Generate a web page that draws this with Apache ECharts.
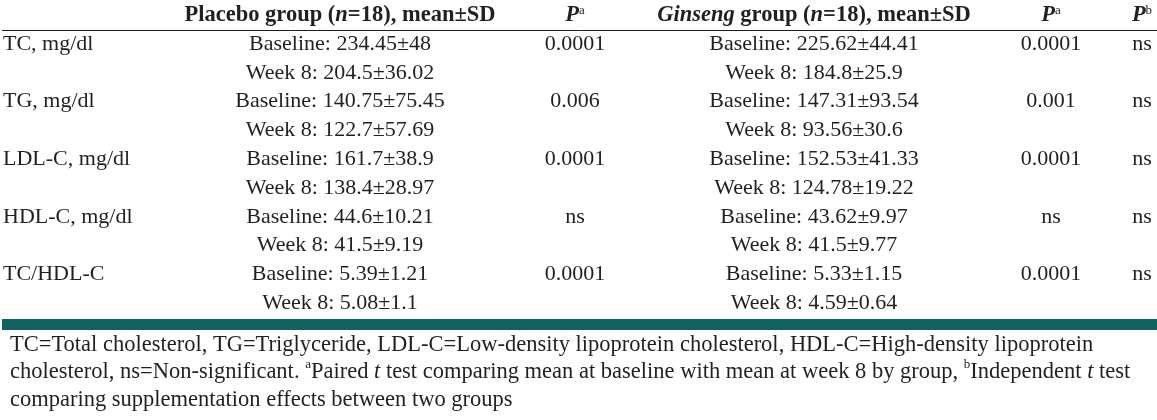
<!DOCTYPE html>
<html>
<head>
<meta charset="utf-8">
<script src="https://cdn.jsdelivr.net/npm/echarts@6/dist/echarts.min.js"></script>
<style>
  html, body { margin: 0; padding: 0; background: #ffffff; }
  #chart { width: 1157px; height: 420px; }
</style>
</head>
<body>
<div id="chart"></div>
<script>
// ---- data ----
const measures = ['TC, mg/dl', 'TG, mg/dl', 'LDL-C, mg/dl', 'HDL-C, mg/dl', 'TC/HDL-C'];
const placeboBaselineMean = [234.45, 140.75, 161.7, 44.6, 5.39];
const placeboBaselineSD   = [48, 75.45, 38.9, 10.21, 1.21];
const placeboWeek8Mean    = [204.5, 122.7, 138.4, 41.5, 5.08];
const placeboWeek8SD      = [36.02, 57.69, 28.97, 9.19, 1.1];
const placeboP            = ['0.0001', '0.006', '0.0001', 'ns', '0.0001'];
const ginsengBaselineMean = [225.62, 147.31, 152.53, 43.62, 5.33];
const ginsengBaselineSD   = [44.41, 93.54, 41.33, 9.97, 1.15];
const ginsengWeek8Mean    = [184.8, 93.56, 124.78, 41.5, 4.59];
const ginsengWeek8SD      = [25.9, 30.6, 19.22, 9.77, 0.64];
const ginsengP            = ['0.0001', '0.001', '0.0001', 'ns', '0.0001'];
const betweenP            = ['ns', 'ns', 'ns', 'ns', 'ns'];
const headers = [
  '',
  '{b|Placebo group (}{bi|n}{b|=18), mean\u00b1SD}',
  '{bi|P}{sup|a}',
  '{bi|Ginseng}{b| group (}{bi|n}{b|=18), mean\u00b1SD}',
  '{bi|P}{sup|a}',
  '{bi|P}{sup|b}'
];
const footnoteLines = [
  'TC=Total cholesterol, TG=Triglyceride, LDL-C=Low-density lipoprotein cholesterol, HDL-C=High-density lipoprotein',
  'cholesterol, ns=Non-significant. {sup|a}Paired {i|t} test comparing mean at baseline with mean at week 8 by group, {sup|b}Independent {i|t} test',
  'comparing supplementation effects between two groups'
];

// ---- layout (column anchors on the x value axis, alignment) ----
const colX = [3, 340, 575, 814, 1051, 1142];
const colAlign = ['left', 'center', 'center', 'center', 'center', 'center'];
const FONT = 'Liberation Serif';
const INK = '#231f20';
const FOOT = 22.5;

// row categories: header + 2 lines per measure
const rowNames = ['header'];
measures.forEach((m, i) => { rowNames.push('r' + i + 'a', 'r' + i + 'b'); });

// build cells
const cells = [];
headers.forEach((h, c) => cells.push({ col: c, row: 0, text: h, rule: c === 0 }));
measures.forEach((m, i) => {
  const ra = 1 + i * 2, rb = 2 + i * 2;
  cells.push({ col: 0, row: ra, text: m });
  cells.push({ col: 1, row: ra, text: 'Baseline: ' + placeboBaselineMean[i] + '\u00b1' + placeboBaselineSD[i] });
  cells.push({ col: 1, row: rb, text: 'Week 8: ' + placeboWeek8Mean[i] + '\u00b1' + placeboWeek8SD[i] });
  cells.push({ col: 2, row: ra, text: placeboP[i] });
  cells.push({ col: 3, row: ra, text: 'Baseline: ' + ginsengBaselineMean[i] + '\u00b1' + ginsengBaselineSD[i] });
  cells.push({ col: 3, row: rb, text: 'Week 8: ' + ginsengWeek8Mean[i] + '\u00b1' + ginsengWeek8SD[i] });
  cells.push({ col: 4, row: ra, text: ginsengP[i] });
  cells.push({ col: 5, row: ra, text: betweenP[i] });
});

const rich = {
  b:   { fontFamily: FONT, fontSize: 22.5, fontWeight: 'bold', color: INK },
  bi:  { fontFamily: FONT, fontSize: 22.5, fontWeight: 'bold', fontStyle: 'italic', color: INK },
  sup: { fontFamily: FONT, fontSize: 13, color: INK, verticalAlign: 'top' }
};

const chart = echarts.init(document.getElementById('chart'), null, { renderer: 'canvas' });
chart.setOption({
  backgroundColor: '#ffffff',
  animation: false,
  title: {
    left: 10,
    top: 331,
    padding: 0,
    text: footnoteLines.join('\n'),
    textStyle: {
      fontFamily: FONT, fontSize: FOOT, fontWeight: 'normal', color: INK, lineHeight: 27.5,
      rich: {
        i:   { fontFamily: FONT, fontSize: FOOT, fontStyle: 'italic', color: INK, lineHeight: 27.5 },
        sup: { fontFamily: FONT, fontSize: 13, color: INK, verticalAlign: 'top', lineHeight: 20 }
      }
    }
  },
  grid: { left: 0, right: 0, top: 0.8, bottom: 102.4 },
  xAxis: { type: 'value', min: 0, max: 1157, show: false },
  yAxis: { type: 'category', data: rowNames, inverse: true, show: false },
  graphic: [{
    type: 'rect', left: 2, top: 319,
    shape: { width: 1155, height: 11 },
    style: { fill: '#116361' }
  }],
  series: [{
    type: 'custom',
    clip: false,
    data: cells.map((c, i) => [colX[c.col], c.row, i]),
    renderItem: function (params, api) {
      const cell = cells[api.value(2)];
      const p = api.coord([api.value(0), api.value(1)]);
      const band = api.size([0, 1])[1];
      const children = [{
        type: 'text',
        x: p[0], y: p[1],
        style: {
          text: cell.text,
          fontFamily: FONT, fontSize: 22, fill: INK,
          align: colAlign[cell.col], verticalAlign: 'middle',
          rich: rich
        }
      }];
      if (cell.rule) {
        const yy = Math.round(p[1] + band / 2) + 0.5;
        children.push({
          type: 'line',
          shape: { x1: 2, y1: yy, x2: 1157, y2: yy },
          style: { stroke: INK, lineWidth: 1 }
        });
      }
      return { type: 'group', children: children };
    }
  }]
});
</script>
</body>
</html>
